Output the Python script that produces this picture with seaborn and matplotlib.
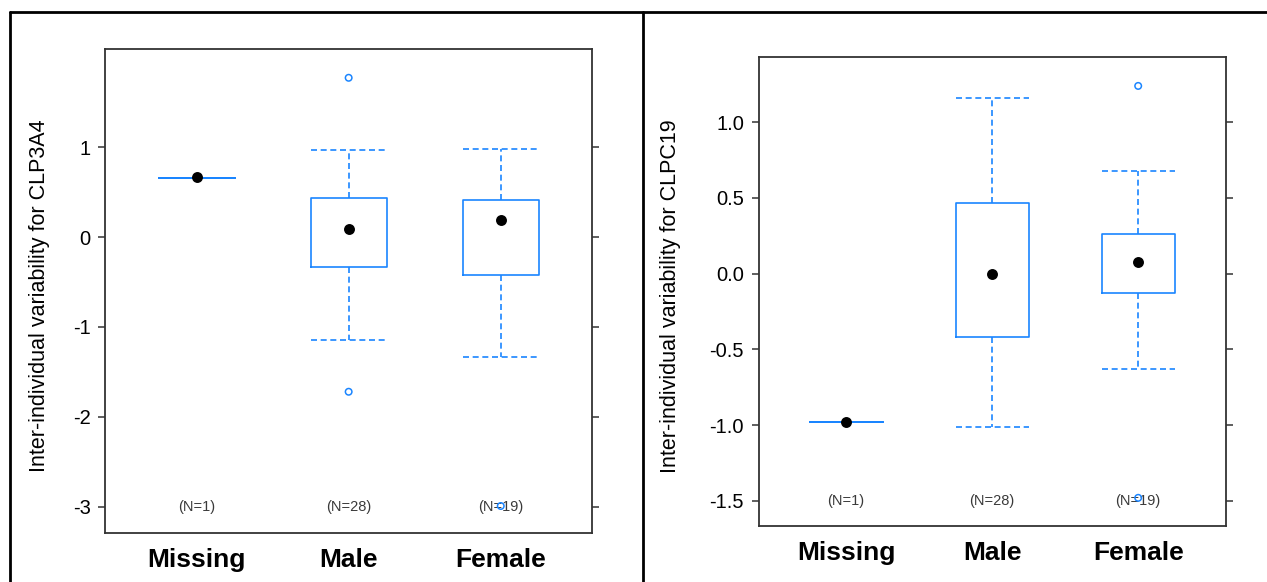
import matplotlib
matplotlib.use("Agg")
import matplotlib.pyplot as plt
from matplotlib.lines import Line2D
import pandas as pd
import seaborn as sns

# ---- data -----------------------------------------------------------------
categories = ["Missing", "Male", "Female"]
group_sizes = [1, 28, 19]

# CLP3A4 summary statistics per group
clp3a4_median = [0.67, 0.09, 0.19]
clp3a4_q1 = [0.66, -0.33, -0.42]
clp3a4_q3 = [0.66, 0.43, 0.41]
clp3a4_low = [0.66, -1.15, -1.33]
clp3a4_high = [0.66, 0.97, 0.98]
clp3a4_outliers = [[], [1.77, -1.72], [-2.99]]
clp3a4_ticks = [-3, -2, -1, 0, 1]
clp3a4_tick_labels = ["-3", "-2", "-1", "0", "1"]

# CLPC19 summary statistics per group
clpc19_median = [-0.98, 0.00, 0.08]
clpc19_q1 = [-0.98, -0.42, -0.13]
clpc19_q3 = [-0.98, 0.47, 0.26]
clpc19_low = [-0.98, -1.01, -0.63]
clpc19_high = [-0.98, 1.16, 0.68]
clpc19_outliers = [[], [], [1.24, -1.48]]
clpc19_ticks = [-1.5, -1.0, -0.5, 0.0, 0.5, 1.0]
clpc19_tick_labels = ["-1.5", "-1.0", "-0.5", "0.0", "0.5", "1.0"]

# ---- style ----------------------------------------------------------------
sns.set_style("white")
plt.rcParams["font.family"] = ["Liberation Sans", "DejaVu Sans"]
plt.rcParams["text.color"] = "black"
plt.rcParams["axes.labelcolor"] = "black"
plt.rcParams["xtick.color"] = "black"
plt.rcParams["ytick.color"] = "black"

BLUE = "#1a85ff"
FRAME = "#333333"
W, H = 1267, 582

fig = plt.figure(figsize=(W / 100, H / 100), dpi=100)
fig.patch.set_facecolor("white")


def draw_panel(rect, med, q1, q3, low, high, outliers, ticks, tick_labels,
               ylabel, ylim, ylabel_x):
    ax = fig.add_axes(rect)
    positions = list(range(len(categories)))

    stats = [
        dict(med=m, q1=a, q3=b, whislo=lo, whishi=hi, fliers=[], label=c)
        for m, a, b, lo, hi, c in zip(med, q1, q3, low, high, categories)
    ]
    dash = (0, (3.6, 2.2))
    ax.bxp(stats, positions=positions, widths=0.5, capwidths=0.5,
           showfliers=False, manage_ticks=False,
           boxprops=dict(color=BLUE, linewidth=1.2),
           whiskerprops=dict(color=BLUE, linewidth=1.2, linestyle=dash),
           capprops=dict(color=BLUE, linewidth=1.2, linestyle=dash),
           medianprops=dict(visible=False))

    # group size annotations along the bottom
    for p, n in zip(positions, group_sizes):
        ax.text(p, ticks[0], f"(N={n})", ha="center", va="center",
                fontsize=10.5, color="#3a3a3a", zorder=3)

    # outlying observations
    out_df = pd.DataFrame(
        [(p, v) for p, vals in zip(positions, outliers) for v in vals],
        columns=["pos", "value"])
    if len(out_df):
        sns.scatterplot(data=out_df, x="pos", y="value", ax=ax, marker="o",
                        s=22, facecolor="none", edgecolor=BLUE,
                        linewidth=1.1, zorder=4, legend=False)

    # group medians
    med_df = pd.DataFrame({"pos": positions, "value": med})
    sns.scatterplot(data=med_df, x="pos", y="value", ax=ax, color="black",
                    s=62, linewidth=0, zorder=5, legend=False)

    ax.set_xlim(-0.6, 2.6)
    ax.set_ylim(*ylim)
    ax.set_xticks(positions)
    ax.set_xticklabels(categories, fontsize=19, fontweight="bold")
    ax.set_yticks(ticks)
    ax.set_yticklabels(tick_labels, fontsize=14.5)
    ax.tick_params(axis="x", length=0, pad=11)
    ax.tick_params(axis="y", direction="out", length=5, width=1.1,
                   color=FRAME, left=True, right=True, labelright=False,
                   pad=5.5)
    ax.set_xlabel("")
    ax.set_ylabel(ylabel, fontsize=15.5)
    ax.yaxis.set_label_coords(ylabel_x, 0.49)
    for sp in ax.spines.values():
        sp.set_visible(True)
        sp.set_color(FRAME)
        sp.set_linewidth(1.3)
    return ax


draw_panel([105.3 / W, 1 - 533 / H, 486.7 / W, 484 / H],
           clp3a4_median, clp3a4_q1, clp3a4_q3, clp3a4_low, clp3a4_high,
           clp3a4_outliers, clp3a4_ticks, clp3a4_tick_labels,
           "Inter-individual variability for CLP3A4", (-3.29, 2.09), -0.114)

draw_panel([758.5 / W, 1 - 526 / H, 467.3 / W, 468.7 / H],
           clpc19_median, clpc19_q1, clpc19_q3, clpc19_low, clpc19_high,
           clpc19_outliers, clpc19_ticks, clpc19_tick_labels,
           "Inter-individual variability for CLPC19", (-1.666, 1.429), -0.166)

# outer frame: top rule, left edge and divider between the two panels
top = 1 - 12 / H
fig.add_artist(Line2D([10 / W, 1], [top, top], transform=fig.transFigure,
                      color="black", linewidth=2))
fig.add_artist(Line2D([10 / W, 10 / W], [0, top], transform=fig.transFigure,
                      color="black", linewidth=2))
fig.add_artist(Line2D([643 / W, 643 / W], [0, top], transform=fig.transFigure,
                      color="black", linewidth=2))

fig.savefig("out.png", dpi=100)
